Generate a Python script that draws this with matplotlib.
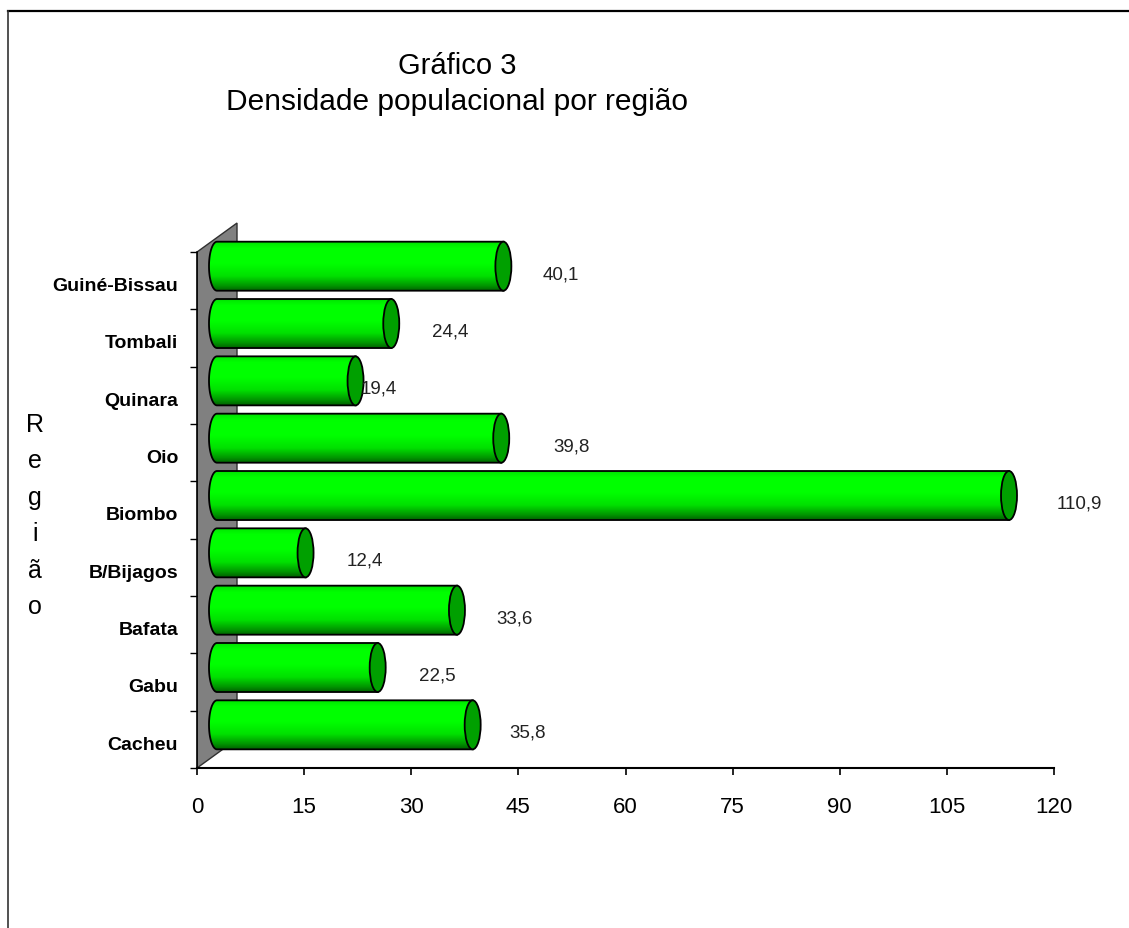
import numpy as np
import matplotlib
matplotlib.use("Agg")
import matplotlib.pyplot as plt
from matplotlib.patches import Polygon, Ellipse
from matplotlib.lines import Line2D

plt.rcParams['font.family'] = ['Liberation Sans', 'DejaVu Sans']

# ---- data (top to bottom as shown) ----
regions = ["Guiné-Bissau", "Tombali", "Quinara", "Oio", "Biombo",
           "B/Bijagos", "Bafata", "Gabu", "Cacheu"]
density = [40.1, 24.4, 19.4, 39.8, 110.9, 12.4, 33.6, 22.5, 35.8]
value_labels = ["40,1", "24,4", "19,4", "39,8", "110,9", "12,4", "33,6", "22,5", "35,8"]
label_gap = [10.9, 11.0, 6.1, 12.7, 12.7, 11.1, 10.8, 11.1, 10.5]
xticks = [0, 15, 30, 45, 60, 75, 90, 105, 120]
title_lines = ["Gráfico 3", "Densidade populacional por região"]
ylabel = "Região"

W, H = 1129, 929
fig = plt.figure(figsize=(W / 100, H / 100), dpi=100)

# axes geometry (front plane)
px_x = 857 / 120.0
px_y = 57.33
ymax = 9.7
ax = fig.add_axes([197 / W, (H - 769) / H, 857 / W, ymax * px_y / H])
ax.set_xlim(0, 120)
ax.set_ylim(0, ymax)

n = len(regions)
depth_x = 40 / px_x      # 3D depth offset in data units
depth_y = 29 / px_y
bar_h = 0.855
cap_a = 8 / px_x          # half-width of elliptical caps

# back wall
wall = Polygon([(0, 0), (0, n), (depth_x, n + depth_y), (depth_x, depth_y)],
               closed=True, facecolor='#808080', edgecolor='#303030', lw=1.0, zorder=1)
ax.add_patch(wall)

# gradient for cylinders (bottom -> top)
v = np.linspace(0, 1, 256)
gstops = np.array([0.0, 0.10, 0.30, 0.55, 0.85, 0.95, 1.0])
gvals = np.array([0.38, 0.58, 0.88, 1.0, 1.0, 0.92, 0.75])
g = np.interp(v, gstops, gvals)
grad = np.zeros((256, 2, 3))
grad[:, :, 1] = g[:, None]
grad[:, :, 0] = 0.0
grad[:, :, 2] = 0.0

for i, (name, val) in enumerate(zip(regions, density)):
    yi = n - 1 - i
    c = yi + 0.5 + depth_y / 2
    x0 = depth_x / 2
    x1 = val + depth_x / 2
    t = np.linspace(np.pi / 2, 3 * np.pi / 2, 40)
    left = np.column_stack([x0 + cap_a * np.cos(t), c + bar_h / 2 * np.sin(t)])
    pts = np.vstack([left, [[x1, c - bar_h / 2], [x1, c + bar_h / 2]]])
    body = Polygon(pts, closed=True, facecolor='none', edgecolor='black', lw=1.3, zorder=4)
    ax.add_patch(body)
    im = ax.imshow(grad, extent=[x0 - cap_a, x1, c - bar_h / 2, c + bar_h / 2],
                   origin='lower', aspect='auto', zorder=3, interpolation='bilinear')
    im.set_clip_path(body)
    cap = Ellipse((x1, c), 2 * cap_a, bar_h, facecolor='#00a000', edgecolor='black',
                  lw=1.3, zorder=5)
    ax.add_patch(cap)
    ax.text(val + label_gap[i], yi + 0.5 + 0.12, value_labels[i], ha='center', va='center',
            fontsize=13.5, color='#222222', zorder=6)

ax.set_xlim(0, 120)
ax.set_ylim(0, ymax)

# axes styling
for s in ['top', 'right']:
    ax.spines[s].set_visible(False)
ax.spines['left'].set_bounds(0, n)
ax.spines['bottom'].set_bounds(0, 120)
ax.spines['left'].set_zorder(2)
ax.spines['left'].set_linewidth(1.2)
ax.spines['bottom'].set_linewidth(1.5)

ax.set_xticks(xticks)
ax.set_xticklabels([str(x) for x in xticks])
ax.tick_params(axis='x', direction='out', length=5, width=1.2, pad=15, labelsize=16)

ax.set_yticks([n - 1 - i + 0.5 - 0.05 for i in range(n)])
ax.set_yticklabels(regions, fontweight='bold', fontsize=14)
ax.set_yticks(np.arange(0, n + 1), minor=True)
ax.tick_params(axis='y', which='major', length=0, pad=13.5)
ax.tick_params(axis='y', which='minor', direction='out', length=5, width=1.0)
ax.patch.set_alpha(0)

# title
fig.text(457 / W, 1 - 66 / H, title_lines[0], ha='center', va='center', fontsize=21)
fig.text(457 / W, 1 - 102 / H, title_lines[1], ha='center', va='center', fontsize=21.5)

# y-axis title, stacked letters
fig.text(35 / W, 1 - 516 / H, "\n".join(ylabel), ha='center', va='center',
         fontsize=18, linespacing=1.65)

# outer frame (top and left edges)
fig.add_artist(Line2D([8 / W, 1.0], [1 - 12 / H, 1 - 12 / H], transform=fig.transFigure,
                      color='black', lw=1.6))
fig.add_artist(Line2D([8 / W, 8 / W], [0, 1 - 12 / H], transform=fig.transFigure,
                      color='#333333', lw=1.2))

fig.savefig("out.png", dpi=100)
